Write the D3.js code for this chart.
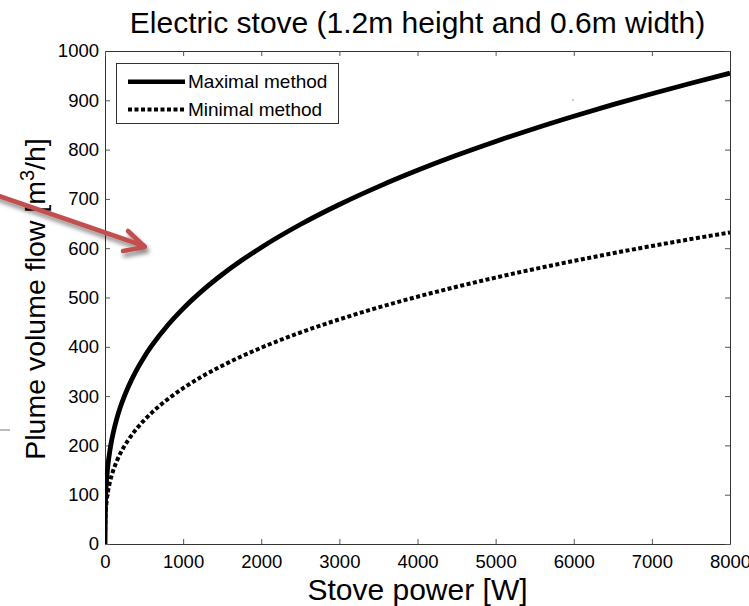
<!DOCTYPE html>
<html>
<head>
<meta charset="utf-8">
<script src="https://cdn.jsdelivr.net/npm/d3@7"></script>
<style>
  html, body { margin: 0; padding: 0; background: #fff; }
  svg { display: block; font-family: "Liberation Sans", Arial, sans-serif; }
</style>
</head>
<body>
<svg id="chart" width="749" height="606"></svg>
<script>
// Stove power [W]
const power = [0, 5, 10, 20, 40, 60, 80, 100, 150, 200, 300, 400, 500, 600, 800,
  1000, 1250, 1500, 1750, 2000, 2500, 3000, 3500, 4000, 4500, 5000, 5500,
  6000, 6500, 7000, 7500, 8000];
// Plume volume flow [m3/h], maximal method
const maximalFlow = [0, 81.6, 102.9, 129.6, 163.3, 186.9, 205.8, 221.6, 253.7, 279.2,
  319.6, 351.8, 379.0, 402.7, 443.3, 477.5, 514.4, 546.6, 575.4, 601.6, 648.1,
  688.7, 725.0, 758.0, 788.4, 816.5, 842.9, 867.7, 891.2, 913.4, 934.7, 955.0];
// Plume volume flow [m3/h], minimal method
const minimalFlow = [0, 54.0, 68.1, 85.8, 108.1, 123.7, 136.2, 146.7, 167.9, 184.8,
  211.5, 232.8, 250.8, 266.5, 293.3, 316.0, 340.4, 361.7, 380.8, 398.1, 428.9,
  455.7, 479.8, 501.6, 521.7, 540.4, 557.8, 574.2, 589.8, 604.5, 618.5, 632.0];
const xTicks = [0, 1000, 2000, 3000, 4000, 5000, 6000, 7000, 8000];
const yTicks = [0, 100, 200, 300, 400, 500, 600, 700, 800, 900, 1000];
const seriesNames = ["Maximal method", "Minimal method"];

const svg = d3.select("#chart");
const plot = { left: 105, right: 730, top: 51, bottom: 544 };

const x = d3.scaleLinear().domain([0, 8000]).range([plot.left, plot.right]);
const y = d3.scaleLinear().domain([0, 1000]).range([plot.bottom, plot.top]);

// Drop shadow used by the callout arrow
const defs = svg.append("defs");
const shadow = defs.append("filter").attr("id", "arrowShadow")
  .attr("x", "-20%").attr("y", "-50%").attr("width", "140%").attr("height", "200%");
shadow.append("feDropShadow").attr("dx", 2).attr("dy", 4)
  .attr("stdDeviation", 2).attr("flood-color", "#000").attr("flood-opacity", 0.45);

// Title
svg.append("text")
  .attr("x", (plot.left + plot.right) / 2).attr("y", 33)
  .attr("text-anchor", "middle").attr("font-size", 30).attr("fill", "#000")
  .text("Electric stove (1.2m height and 0.6m width)");

// Axes: labelled bottom/left, mirrored top/right with inward ticks
const fmt = d3.format("d");
const tickLen = 5;
svg.append("g").attr("transform", `translate(0,${plot.bottom})`)
  .call(d3.axisBottom(x).tickValues(xTicks).tickFormat(fmt).tickSizeInner(-tickLen).tickSizeOuter(0).tickPadding(11));
svg.append("g").attr("transform", `translate(${plot.left},0)`)
  .call(d3.axisLeft(y).tickValues(yTicks).tickFormat(fmt).tickSizeInner(-tickLen).tickSizeOuter(0).tickPadding(6));
svg.append("g").attr("transform", `translate(0,${plot.top})`)
  .call(d3.axisTop(x).tickValues(xTicks).tickFormat("").tickSizeInner(-tickLen).tickSizeOuter(0));
svg.append("g").attr("transform", `translate(${plot.right},0)`)
  .call(d3.axisRight(y).tickValues(yTicks).tickFormat("").tickSizeInner(-tickLen).tickSizeOuter(0));

svg.selectAll(".domain").attr("stroke", "#333").attr("stroke-width", 1);
svg.selectAll(".tick line").attr("stroke", "#555");
svg.selectAll(".tick text").attr("font-size", 18.5).attr("fill", "#000")
  .attr("font-family", "Liberation Sans, Arial, sans-serif");

// Curves
const line = d3.line().x((d, i) => x(power[i])).y(d => y(d)).curve(d3.curveMonotoneX);
const clipId = "plotClip";
defs.append("clipPath").attr("id", clipId).append("rect")
  .attr("x", plot.left).attr("y", plot.top - 4)
  .attr("width", plot.right - plot.left).attr("height", plot.bottom - plot.top + 4);

const curves = svg.append("g").attr("clip-path", `url(#${clipId})`);
curves.append("path").datum(minimalFlow)
  .attr("d", line).attr("fill", "none").attr("stroke", "#000")
  .attr("stroke-width", 4).attr("stroke-dasharray", "4,2.5");
curves.append("path").datum(maximalFlow)
  .attr("d", line).attr("fill", "none").attr("stroke", "#000")
  .attr("stroke-width", 4.8).attr("stroke-linejoin", "round");

// Legend
const legend = svg.append("g");
legend.append("rect").attr("x", 116.5).attr("y", 63.5).attr("width", 222).attr("height", 60)
  .attr("fill", "#fff").attr("stroke", "#333").attr("stroke-width", 1);
const legendRows = [
  { name: seriesNames[0], y: 81.7, dash: null, width: 4.5 },
  { name: seriesNames[1], y: 109.5, dash: "4,2.5", width: 4 }
];
legendRows.forEach(r => {
  legend.append("line").attr("x1", 128).attr("x2", 185).attr("y1", r.y).attr("y2", r.y)
    .attr("stroke", "#000").attr("stroke-width", r.width)
    .attr("stroke-dasharray", r.dash);
  legend.append("text").attr("x", 188).attr("y", r.y + 6.5)
    .attr("font-size", 19).attr("fill", "#000").text(r.name);
});

// Axis titles
svg.append("text")
  .attr("x", (plot.left + plot.right) / 2).attr("y", 600)
  .attr("text-anchor", "middle").attr("font-size", 30).attr("fill", "#000")
  .text("Stove power [W]");

const yTitle = svg.append("text")
  .attr("transform", `translate(45,299) rotate(-90)`)
  .attr("text-anchor", "middle").attr("font-size", 28.5).attr("fill", "#000");
yTitle.append("tspan").text("Plume volume flow [m");
yTitle.append("tspan").attr("font-size", 20).attr("dy", -11).text("3");
yTitle.append("tspan").attr("dy", 11).text("/h]");

// Callout arrow on the left
const arrow = svg.append("g").attr("filter", "url(#arrowShadow)")
  .attr("stroke", "#c0504d").attr("stroke-width", 4.5).attr("fill", "none")
  .attr("stroke-linecap", "round").attr("stroke-linejoin", "round");
arrow.append("line").attr("x1", -4).attr("y1", 195).attr("x2", 144).attr("y2", 246);
arrow.append("polyline").attr("points", "128,231 145,247 123,251");

// Faint stray marks at the left edge and near the upper curve
svg.append("line").attr("x1", 0).attr("x2", 10).attr("y1", 430).attr("y2", 430)
  .attr("stroke", "#bbb").attr("stroke-width", 2);
svg.append("rect").attr("x", 572).attr("y", 99).attr("width", 2).attr("height", 2)
  .attr("fill", "#ccc");
</script>
</body>
</html>
